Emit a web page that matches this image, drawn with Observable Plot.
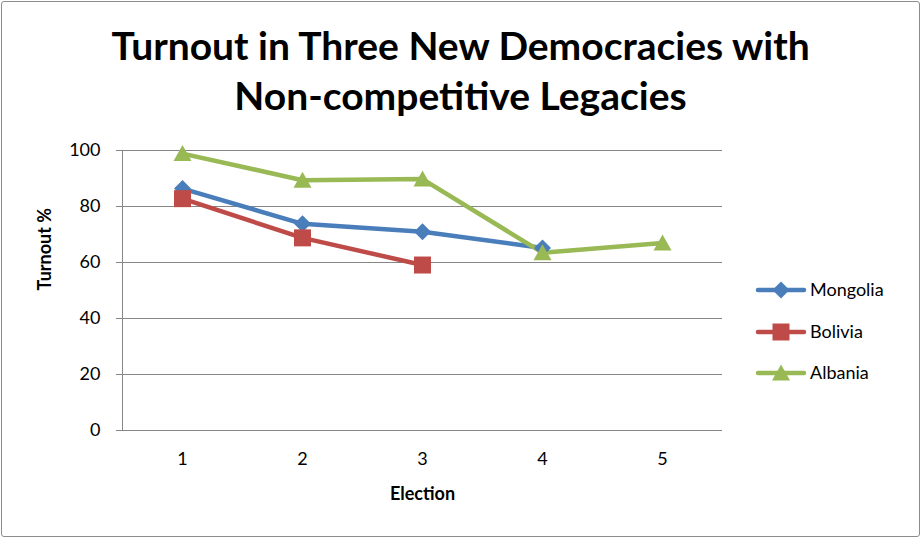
<!DOCTYPE html>
<html>
<head>
<meta charset="utf-8">
<script src="https://cdn.jsdelivr.net/npm/d3@7"></script>
<script src="https://cdn.jsdelivr.net/npm/@observablehq/plot@0.6"></script>
<style>
  body { margin: 0; background: #fff; }
  #wrap { position: relative; width: 921px; height: 538px; }
  #border { position: absolute; left: 1px; top: 1px; width: 917px; height: 534px; border: 1px solid #8c8c8c; border-radius: 3px; pointer-events: none; }
</style>
</head>
<body>
<div id="wrap"><div id="border"></div></div>
<script>
const elections = [1, 2, 3, 4, 5];
const seriesNames = ["Mongolia", "Bolivia", "Albania"];
const mongolia = [86.4, 73.8, 71.0, 65.2];
const bolivia = [82.8, 68.8, 59.1];
const albania = [98.9, 89.4, 89.8, 63.5, 67.0];
const colors = ["#4A7EBB", "#BE4B48", "#98B954"];
const yTicks = [0, 20, 40, 60, 80, 100];
const titleLines = ["Turnout in Three New Democracies with", "Non-competitive Legacies"];

const seriesValues = [mongolia, bolivia, albania];
const rows = [];
seriesNames.forEach((name, i) => {
  seriesValues[i].forEach((v, j) => rows.push({series: name, election: elections[j], turnout: v}));
});

const diamond = {draw(ctx) { const s = 8.5; ctx.moveTo(0, -s); ctx.lineTo(s, 0); ctx.lineTo(0, s); ctx.lineTo(-s, 0); ctx.closePath(); }};
const square = {draw(ctx) { const s = 8.5; ctx.moveTo(-s, -s); ctx.lineTo(s, -s); ctx.lineTo(s, s); ctx.lineTo(-s, s); ctx.closePath(); }};
const triangle = {draw(ctx) { ctx.moveTo(0, -8.5); ctx.lineTo(9, 7.5); ctx.lineTo(-9, 7.5); ctx.closePath(); }};
const symbols = [diamond, square, triangle];

const font = "Lato, 'Open Sans', sans-serif";

const chart = Plot.plot({
  width: 921,
  height: 538,
  marginLeft: 122,
  marginRight: 199,
  marginTop: 150,
  marginBottom: 108,
  style: {fontFamily: font, fontSize: "18px", color: "#000", background: "transparent"},
  x: {domain: [0.5, 5.5]},
  y: {domain: [0, 100]},
  color: {domain: seriesNames, range: colors},
  marks: [
    Plot.gridY(yTicks, {stroke: "#868686", strokeOpacity: 1, strokeWidth: 1}),
    Plot.frame({anchor: "left", stroke: "#868686"}),
    Plot.ruleY([0], {stroke: "#868686"}),
    Plot.axisY(yTicks, {tickSize: 6, tickPadding: 16, fontSize: 18, label: null, stroke: "#868686", fill: "#000"}),
    Plot.axisX(elections, {tickSize: 0, tickPadding: 22, fontSize: 18, label: null, fill: "#000", tickFormat: d3.format("d")}),
    Plot.text(["Election"], {frameAnchor: "bottom", dy: 64, fontWeight: "bold", fontSize: 18, lineAnchor: "middle"}),
    Plot.text(["Turnout %"], {frameAnchor: "left", dx: -77, rotate: -90, fontWeight: "bold", fontSize: 18, lineAnchor: "middle"}),
    Plot.text([titleLines[0]], {frameAnchor: "top", dx: 38, dy: -103, fontWeight: "bold", fontSize: 39, lineAnchor: "middle"}),
    Plot.text([titleLines[1]], {frameAnchor: "top", dx: 38, dy: -53, fontWeight: "bold", fontSize: 39, lineAnchor: "middle"}),
    Plot.line(rows, {x: "election", y: "turnout", z: "series", stroke: "series", strokeWidth: 4.5, strokeLinejoin: "round", strokeLinecap: "round"}),
    ...seriesNames.map((name, i) => Plot.dot(rows.filter(d => d.series === name), {x: "election", y: "turnout", symbol: symbols[i], fill: colors[i], stroke: "none"}))
  ]
});

document.getElementById("wrap").prepend(chart);

// legend
const svg = d3.select(chart);
const legendY = [290, 332, 373];
const lg = svg.append("g").attr("text-anchor", "start");
seriesNames.forEach((name, i) => {
  const g = lg.append("g").attr("transform", `translate(781,${legendY[i]})`);
  g.append("line").attr("x1", -23).attr("x2", 23).attr("y1", 0).attr("y2", 0)
    .attr("stroke", colors[i]).attr("stroke-width", 4.5).attr("stroke-linecap", "round");
  g.append("path").attr("d", d3.symbol(symbols[i])()).attr("fill", colors[i]);
  g.append("text").attr("x", 29).attr("y", 0).attr("dy", "0.35em").attr("text-anchor", "start")
    .attr("font-size", 18).attr("font-family", font).attr("fill", "#000").text(name);
});
</script>
</body>
</html>
